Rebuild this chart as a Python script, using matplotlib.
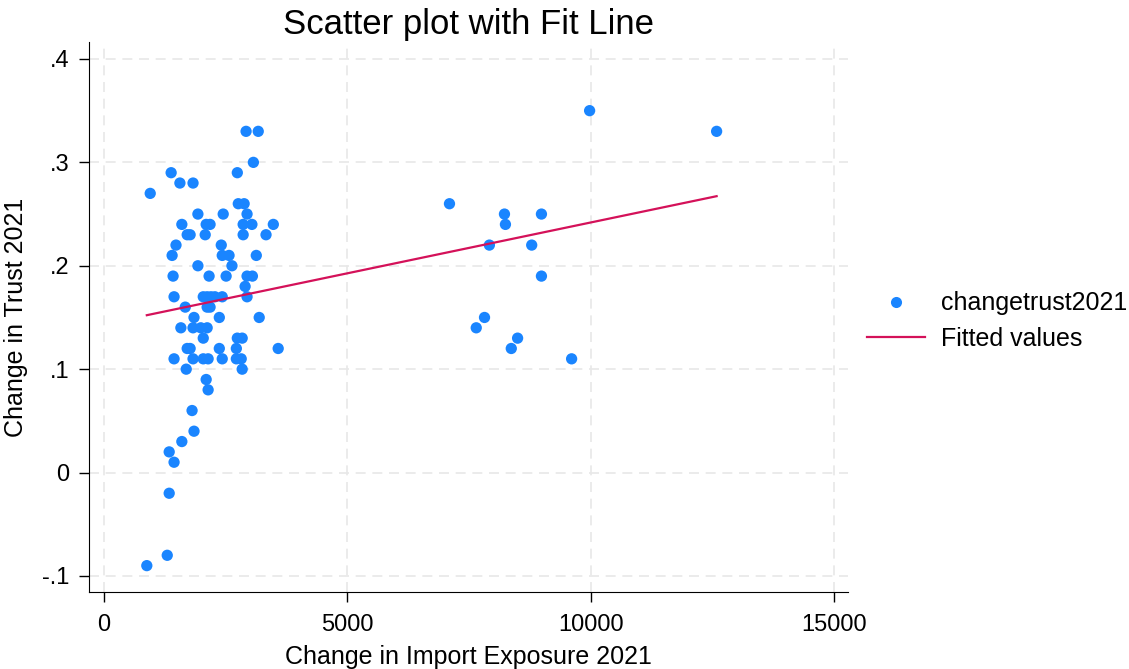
import numpy as np
import matplotlib
matplotlib.use("Agg")
import matplotlib.pyplot as plt
from matplotlib.lines import Line2D

plt.rcParams['font.family'] = ['Liberation Sans', 'DejaVu Sans']

# change in import exposure 2021 (x) and change in trust 2021 (y)
import_x = [2920, 3170, 3070, 1380, 2740, 1560, 1830, 950, 2760, 2880,
            1930, 2450, 2940, 1600, 2100, 2180, 2860, 3040, 3480,
            1710, 1770, 2080, 2860, 3330, 1480, 2410, 1400, 2430, 2570, 3130,
            1930, 2630, 1420, 2160, 2510, 2940, 3050, 2900,
            1440, 2040, 2120, 2200, 2280, 2430, 2940,
            1670, 2120, 2180, 1850, 2370, 3190, 1580, 1830, 1990, 2120,
            2040, 2740, 2840, 1710, 1770, 2370, 2720, 3580,
            1440, 1830, 2040, 2140, 2430, 2720, 2820, 1690, 2840,
            2100, 2140, 1810, 1850, 1600, 1340, 1440, 1340, 1300, 880,
            9980, 12590, 7100, 8230, 8990, 8250, 7920, 8790, 8990,
            7820, 7650, 8500, 8370, 9610]
trust_y = [0.33, 0.33, 0.30, 0.29, 0.29, 0.28, 0.28, 0.27, 0.26, 0.26,
           0.25, 0.25, 0.25, 0.24, 0.24, 0.24, 0.24, 0.24, 0.24,
           0.23, 0.23, 0.23, 0.23, 0.23, 0.22, 0.22, 0.21, 0.21, 0.21, 0.21,
           0.20, 0.20, 0.19, 0.19, 0.19, 0.19, 0.19, 0.18,
           0.17, 0.17, 0.17, 0.17, 0.17, 0.17, 0.17,
           0.16, 0.16, 0.16, 0.15, 0.15, 0.15, 0.14, 0.14, 0.14, 0.14,
           0.13, 0.13, 0.13, 0.12, 0.12, 0.12, 0.12, 0.12,
           0.11, 0.11, 0.11, 0.11, 0.11, 0.11, 0.11, 0.10, 0.10,
           0.09, 0.08, 0.06, 0.04, 0.03, 0.02, 0.01, -0.02, -0.08, -0.09,
           0.35, 0.33, 0.26, 0.25, 0.25, 0.24, 0.22, 0.22, 0.19,
           0.15, 0.14, 0.13, 0.12, 0.11]

x_ticks = [0, 5000, 10000, 15000]
y_ticks = [-0.1, 0, 0.1, 0.2, 0.3, 0.4]
y_labels = ['-.1', '0', '.1', '.2', '.3', '.4']

blue = '#1a85ff'
red = '#d41159'

x = np.array(import_x)
y = np.array(trust_y)
b, a = np.polyfit(x, y, 1)
xs = np.sort(x)

fig = plt.figure(figsize=(11.29, 6.69), dpi=100)
ax = fig.add_axes([89/1129, 1-592/669, (848-89)/1129, (592-42)/669])

ax.scatter(x, y, s=66, color=blue, edgecolors='none', zorder=3)
ax.plot(xs, a + b*xs, color=red, linewidth=1.6, zorder=4)

ax.set_xlim(-308, 15290)
ax.set_ylim(-0.1155, 0.4164)
ax.set_xticks(x_ticks)
ax.set_yticks(y_ticks)
ax.set_yticklabels(y_labels)
ax.tick_params(labelsize=17, direction='out', length=7, width=1, colors='black')
ax.tick_params(axis='y', pad=7)
ax.tick_params(axis='x', pad=9)
ax.grid(True, color='#e8e8e8', linestyle=(0, (6, 4)), linewidth=1.2, zorder=0)
ax.spines['top'].set_visible(False)
ax.spines['right'].set_visible(False)
ax.set_axisbelow(True)

ax.set_xlabel('Change in Import Exposure 2021', fontsize=18, labelpad=6)
ax.set_ylabel('Change in Trust 2021', fontsize=18, labelpad=10)
ax.set_title('Scatter plot with Fit Line', fontsize=25, pad=6)

handles = [Line2D([], [], linestyle='none', marker='o', markersize=8,
                  color=blue, markeredgecolor='none'),
           Line2D([], [], color=red, linewidth=1.6)]
fig.legend(handles, ['changetrust2021', 'Fitted values'],
           loc='center left', bbox_to_anchor=(867/1129, 1-321/669),
           frameon=False, fontsize=18, handlelength=2.3, handletextpad=0.65,
           labelspacing=0.45, borderpad=0, borderaxespad=0)

fig.savefig('out.png', dpi=100, facecolor='white')
